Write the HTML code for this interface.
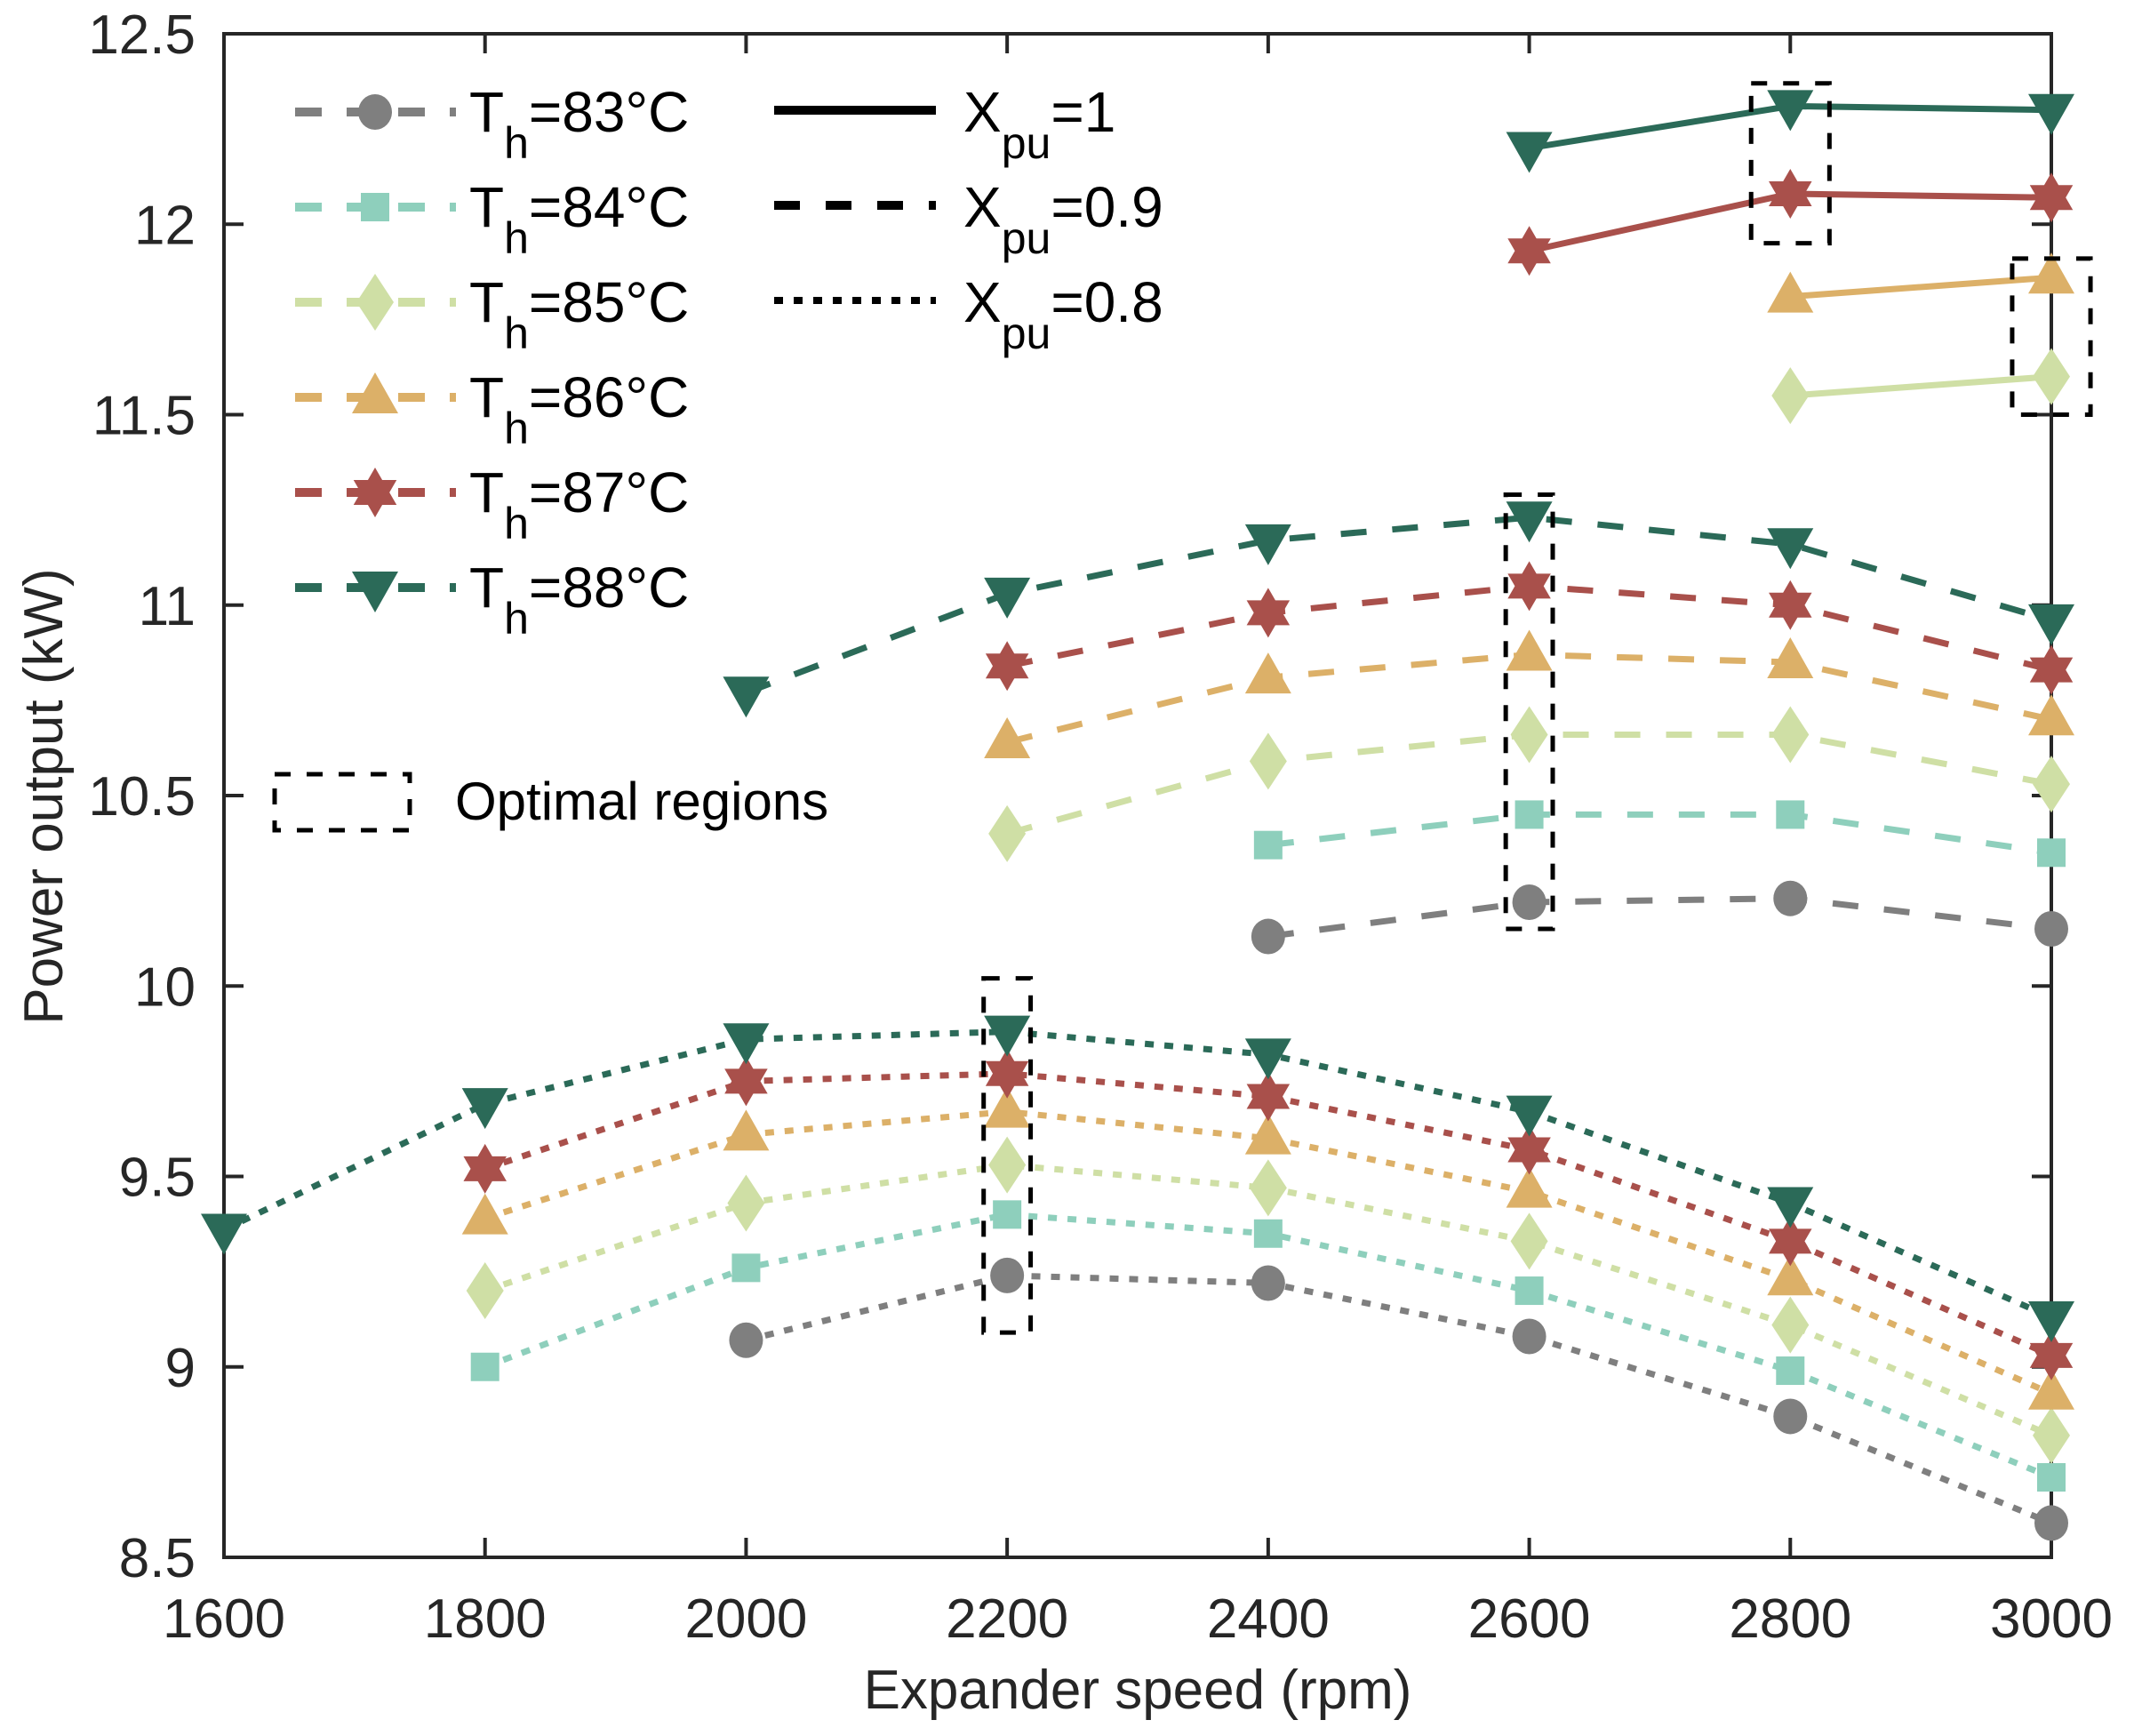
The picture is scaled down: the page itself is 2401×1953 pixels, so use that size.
<!DOCTYPE html>
<html><head><meta charset="utf-8"><style>
html,body{margin:0;padding:0;background:#fff;}
svg{display:block;font-family:"Liberation Sans",Arial,sans-serif;}
</style></head><body>
<svg id="chart" width="2401" height="1953" viewBox="0 0 2401 1953" xmlns="http://www.w3.org/2000/svg">
<rect x="0" y="0" width="2401" height="1953" fill="#fff"/>
<g id="plot"></g>
</svg>
<script>
const speeds = [1600,1800,2000,2200,2400,2600,2800,3000];
const temps = ['83','84','85','86','87','88'];
const colors = ['#7f7f7f','#8ecfbc','#cfdfa5','#dcb068','#a9504b','#2b6a58'];
const markers = ['circle','square','diamond','triangle','star','tridown'];
// Xpu = 1 (solid), null = no data
const x1_83 = [null,null,null,null,null,null,null,null];
const x1_84 = [null,null,null,null,null,null,null,null];
const x1_85 = [null,null,null,null,null,null,11.55,11.60];
const x1_86 = [null,null,null,null,null,null,11.81,11.86];
const x1_87 = [null,null,null,null,null,11.93,12.08,12.07];
const x1_88 = [null,null,null,null,null,12.20,12.31,12.30];
// Xpu = 0.9 (dashed)
const x09_83 = [null,null,null,null,10.13,10.22,10.23,10.15];
const x09_84 = [null,null,null,null,10.37,10.45,10.45,10.35];
const x09_85 = [null,null,null,10.40,10.59,10.66,10.66,10.53];
const x09_86 = [null,null,null,10.64,10.81,10.87,10.85,10.70];
const x09_87 = [null,null,null,10.84,10.98,11.05,11.00,10.83];
const x09_88 = [null,null,10.77,11.03,11.17,11.23,11.16,10.96];
// Xpu = 0.8 (dotted)
const x08_83 = [null,null,9.07,9.24,9.22,9.08,8.87,8.59];
const x08_84 = [null,9.00,9.26,9.40,9.35,9.20,8.99,8.71];
const x08_85 = [null,9.20,9.43,9.53,9.47,9.33,9.11,8.82];
const x08_86 = [null,9.39,9.61,9.67,9.60,9.46,9.23,8.93];
const x08_87 = [null,9.52,9.75,9.77,9.71,9.57,9.33,9.03];
const x08_88 = [9.36,9.69,9.86,9.88,9.82,9.67,9.43,9.13];
// optimal region boxes: center speed, half-width rpm, y low, y high
const boxSpeed = [2800,3000,2600,2200];
const boxHalf = [30,30,18,18];
const boxLow = [11.95,11.50,10.15,9.09];
const boxHigh = [12.37,11.91,11.29,10.02];
const xTicks = [1600,1800,2000,2200,2400,2600,2800,3000];
const yTicks = [8.5,9,9.5,10,10.5,11,11.5,12,12.5];

const L=252,R=2308,T=38,B=1752;
const xMin=1600,xMax=3000,yMin=8.5,yMax=12.5;
const sx=v=>L+(v-xMin)/(xMax-xMin)*(R-L);
const sy=v=>B-(v-yMin)/(yMax-yMin)*(B-T);
const NS='http://www.w3.org/2000/svg';
const g=document.getElementById('plot');
function mk(tag,attrs,parent){const e=document.createElementNS(NS,tag);for(const k in attrs)e.setAttribute(k,attrs[k]);(parent||g).appendChild(e);return e;}

function marker(type,cx,cy,color,parent){
  let e;const r=19;
  if(type==='circle'){e=mk('ellipse',{cx:cx,cy:cy,rx:r,ry:20,fill:color},parent);}
  else if(type==='square'){e=mk('rect',{x:cx-16,y:cy-16,width:32,height:32,fill:color},parent);}
  else if(type==='diamond'){e=mk('polygon',{points:`${cx},${cy-32} ${cx+21},${cy} ${cx},${cy+32} ${cx-21},${cy}`,fill:color},parent);}
  else if(type==='triangle'){e=mk('polygon',{points:`${cx},${cy-28} ${cx+26},${cy+18} ${cx-26},${cy+18}`,fill:color},parent);}
  else if(type==='tridown'){e=mk('polygon',{points:`${cx-26},${cy-18} ${cx+26},${cy-18} ${cx},${cy+28}`,fill:color},parent);}
  else {
    const a=28,h=a*0.866;
    e=mk('g',{},parent);
    mk('polygon',{points:`${cx},${cy-a} ${cx+h},${cy+a/2} ${cx-h},${cy+a/2}`,fill:color},e);
    mk('polygon',{points:`${cx},${cy+a} ${cx+h},${cy-a/2} ${cx-h},${cy-a/2}`,fill:color},e);
  }
  return e;
}

// axes box
const axis=mk('rect',{x:L,y:T,width:R-L,height:B-T,fill:'none',stroke:'#262626','stroke-width':4});


xTicks.forEach(t=>{
  const x=sx(t);
  mk('line',{x1:x,y1:B,x2:x,y2:B-22,stroke:'#262626','stroke-width':4});
  mk('line',{x1:x,y1:T,x2:x,y2:T+22,stroke:'#262626','stroke-width':4});
  const tx=mk('text',{x:x,y:B+90,'text-anchor':'middle','font-size':62,fill:'#262626'});
  tx.textContent=t;
  
  
});
yTicks.forEach(t=>{
  const y=sy(t);
  mk('line',{x1:L,y1:y,x2:L+22,y2:y,stroke:'#262626','stroke-width':4});
  mk('line',{x1:R,y1:y,x2:R-22,y2:y,stroke:'#262626','stroke-width':4});
  const ty=mk('text',{x:220,y:y+22,'text-anchor':'end','font-size':62,fill:'#262626'});
  ty.textContent=String(t);
  
  
});

const series=[
  {data:[x1_83,x1_84,x1_85,x1_86,x1_87,x1_88],dash:'none',name:'xpu1'},
  {data:[x09_83,x09_84,x09_85,x09_86,x09_87,x09_88],dash:'29 29',name:'xpu09'},
  {data:[x08_83,x08_84,x08_85,x08_86,x08_87,x08_88],dash:'10 12',name:'xpu08'}
];
series.forEach(s=>{
  s.data.forEach((vals,i)=>{
    const pts=[];vals.forEach((v,j)=>{if(v!==null)pts.push(sx(speeds[j])+','+sy(v));});
    if(pts.length<1)return;
    const ln=mk('polyline',{points:pts.join(' '),fill:'none',stroke:colors[i],'stroke-width':7,'stroke-dasharray':s.dash});
    
    
  });
});
series.forEach(s=>{
  s.data.forEach((vals,i)=>{
    vals.forEach((v,j)=>{
      if(v===null)return;
      const m=marker(markers[i],sx(speeds[j]),sy(v),colors[i]);
      
      
    });
  });
});
boxSpeed.forEach((s,i)=>{
  const x1=sx(s-boxHalf[i]),x2=sx(s+boxHalf[i]),y1=sy(boxHigh[i]),y2=sy(boxLow[i]);
  const b=mk('rect',{x:x1,y:y1,width:x2-x1,height:y2-y1,fill:'none',stroke:'#000','stroke-width':5,'stroke-dasharray':'18 18'});
  
  
});

// legend 1
temps.forEach((t,i)=>{
  const y=126+107*i;
  const lg=mk('g',{});
  
  
  mk('line',{x1:332,y1:y,x2:513,y2:y,stroke:colors[i],'stroke-width':10,'stroke-dasharray':'30 28'},lg);
  marker(markers[i],422,y,colors[i],lg);
  const tx=mk('text',{x:528,y:y+22,'font-size':64,fill:'#000'},lg);
  tx.innerHTML='T<tspan font-size="50" dy="30">h</tspan><tspan dy="-30">='+t+'°C</tspan>';
});
// legend 2
const lineLabels=['1','0.9','0.8'];
const lineDash=['none','29 29','10 12'];
lineLabels.forEach((lab,i)=>{
  const y=124+107*i;
  const lg=mk('g',{});
  
  
  mk('line',{x1:871,y1:y,x2:1053,y2:y,stroke:'#000','stroke-width':i==2?8:10,'stroke-dasharray':lineDash[i]},lg);
  const tx=mk('text',{x:1084,y:y+24,'font-size':64,fill:'#000'},lg);
  tx.innerHTML='X<tspan font-size="50" dy="30">pu</tspan><tspan dy="-30">='+lab+'</tspan>';
});
const og=mk('g',{});


mk('rect',{x:309,y:871,width:152,height:63,fill:'none',stroke:'#000','stroke-width':5,'stroke-dasharray':'18 18'},og);
const ot=mk('text',{x:512,y:922,'font-size':60,fill:'#000'},og);
ot.textContent='Optimal regions';

const xl=mk('text',{x:1280,y:1922,'text-anchor':'middle','font-size':62,fill:'#262626'});
xl.textContent='Expander speed (rpm)';


const yl=mk('text',{x:0,y:0,'text-anchor':'middle','font-size':62,fill:'#262626',transform:'translate(70,896) rotate(-90)'});
yl.textContent='Power output (kW)';


</script>
</body></html>
